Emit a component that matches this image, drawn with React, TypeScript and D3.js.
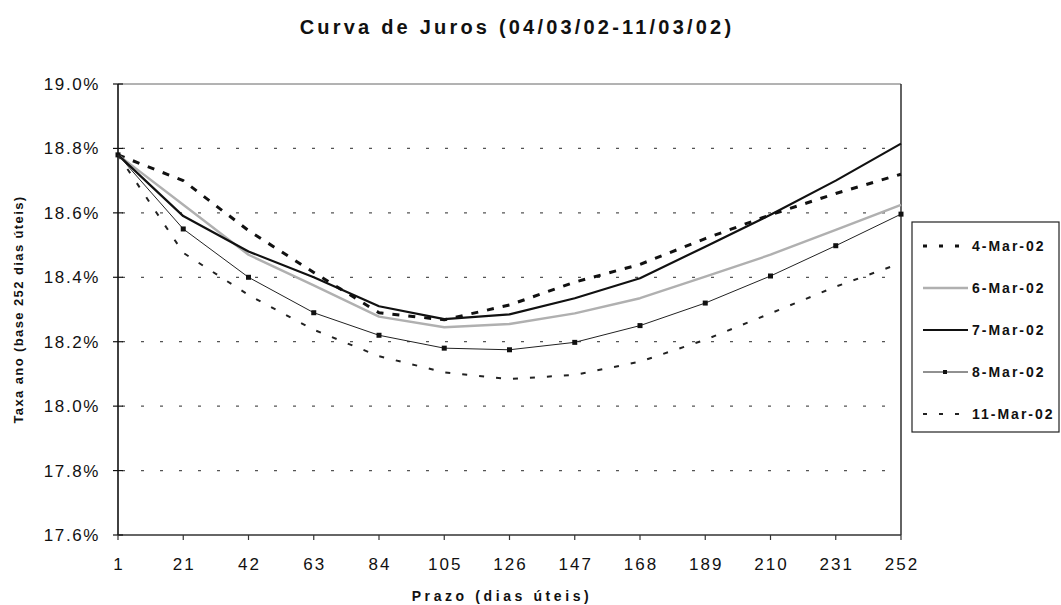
import React from "react";
import * as d3 from "d3";

// Prazo (dias úteis) — categories along the x axis
const prazos = ["1", "21", "42", "63", "84", "105", "126", "147", "168", "189", "210", "231", "252"];

// Taxa ano (% a.a., base 252 dias úteis) per curve date
const mar04 = [18.78, 18.70, 18.545, 18.415, 18.29, 18.268, 18.314, 18.385, 18.44, 18.52, 18.594, 18.66, 18.72];
const mar06 = [18.78, 18.625, 18.47, 18.375, 18.278, 18.245, 18.255, 18.288, 18.335, 18.402, 18.47, 18.547, 18.625];
const mar07 = [18.78, 18.59, 18.48, 18.40, 18.31, 18.27, 18.285, 18.335, 18.397, 18.495, 18.594, 18.70, 18.815];
const mar08 = [18.78, 18.55, 18.40, 18.29, 18.22, 18.18, 18.175, 18.198, 18.25, 18.32, 18.404, 18.498, 18.596];
const mar11 = [18.78, 18.476, 18.345, 18.237, 18.155, 18.105, 18.084, 18.097, 18.138, 18.206, 18.288, 18.371, 18.444];

const yTicks = [17.6, 17.8, 18.0, 18.2, 18.4, 18.6, 18.8, 19.0];
const gridValues = [17.8, 18.0, 18.2, 18.4, 18.6, 18.8];

type Series = {
  name: string;
  values: number[];
  stroke: string;
  width: number;
  dash?: string;
  markers?: boolean;
};

const series: Series[] = [
  { name: "4-Mar-02", values: mar04, stroke: "#111", width: 3, dash: "7,9" },
  { name: "6-Mar-02", values: mar06, stroke: "#b0b0b0", width: 2.4 },
  { name: "7-Mar-02", values: mar07, stroke: "#111", width: 2.2 },
  { name: "8-Mar-02", values: mar08, stroke: "#222", width: 1, markers: true },
  { name: "11-Mar-02", values: mar11, stroke: "#222", width: 2, dash: "5,12" },
];

const FONT = "'Liberation Sans', Arial, sans-serif";

export default function App() {
  const W = 1061;
  const H = 605;
  const left = 118;
  const right = 901;
  const top = 84;
  const bottom = 535;

  const x = d3.scalePoint<string>().domain(prazos).range([left, right]);
  const y = d3.scaleLinear().domain([17.6, 19.0]).range([bottom, top]);

  const line = d3
    .line<number>()
    .x((_, i) => x(prazos[i]) as number)
    .y((v) => y(v));

  const legendX = 912;
  const legendTop = 222;
  const legendRowY = (i: number) => 246 + i * 42;

  return (
    <svg
      width={W}
      height={H}
      style={{ position: "absolute", left: 0, top: 0, background: "#fff" }}
      fontFamily={FONT}
    >
      <rect width={W} height={H} fill="#fff" />

      {/* title */}
      <text
        x={517}
        y={34}
        textAnchor="middle"
        fontSize={20}
        fontWeight="bold"
        letterSpacing={3.2}
        fill="#111"
      >
        Curva de Juros (04/03/02-11/03/02)
      </text>

      {/* dotted gridlines */}
      {gridValues.map((v) => (
        <line
          key={v}
          x1={left + 4}
          x2={right}
          y1={y(v)}
          y2={y(v)}
          stroke="#555"
          strokeWidth={1.2}
          strokeDasharray="3,16"
        />
      ))}

      {/* plot frame */}
      <line x1={left} x2={right} y1={top} y2={top} stroke="#666" strokeWidth={1} />
      <line x1={right} x2={right} y1={top} y2={bottom} stroke="#222" strokeWidth={1.4} />
      <line x1={left} x2={left} y1={top} y2={bottom} stroke="#111" strokeWidth={1.6} />
      <line x1={left} x2={right} y1={bottom} y2={bottom} stroke="#333" strokeWidth={1.6} />

      {/* y axis ticks and labels */}
      {yTicks.map((v) => (
        <g key={v}>
          <line x1={left - 5} x2={left + 5} y1={y(v)} y2={y(v)} stroke="#111" strokeWidth={1.2} />
          <text
            x={100}
            y={y(v) + 6}
            textAnchor="end"
            fontSize={17}
            letterSpacing={1.6}
            fill="#111"
          >
            {v.toFixed(1)}%
          </text>
        </g>
      ))}

      {/* x axis ticks and labels */}
      {prazos.map((p) => (
        <g key={p}>
          <line
            x1={x(p) as number}
            x2={x(p) as number}
            y1={bottom}
            y2={bottom + 5}
            stroke="#333"
            strokeWidth={1.2}
          />
          <text
            x={(x(p) as number) + 1}
            y={570}
            textAnchor="middle"
            fontSize={17}
            letterSpacing={2}
            fill="#111"
          >
            {p}
          </text>
        </g>
      ))}

      {/* axis titles */}
      <text
        x={502}
        y={601}
        textAnchor="middle"
        fontSize={14}
        fontWeight="bold"
        letterSpacing={3.6}
        fill="#111"
      >
        Prazo (dias úteis)
      </text>
      <text
        transform={`translate(23, ${(top + bottom) / 2}) rotate(-90)`}
        textAnchor="middle"
        fontSize={13}
        fontWeight="bold"
        letterSpacing={1.4}
        fill="#111"
      >
        Taxa ano (base 252 dias úteis)
      </text>

      {/* curves */}
      {series.map((s) => (
        <g key={s.name}>
          <path
            d={line(s.values) ?? ""}
            fill="none"
            stroke={s.stroke}
            strokeWidth={s.width}
            strokeDasharray={s.dash}
            strokeLinejoin="round"
          />
          {s.markers &&
            s.values.map((v, i) => (
              <rect
                key={i}
                x={(x(prazos[i]) as number) - 2.5}
                y={y(v) - 2.5}
                width={5}
                height={5}
                fill="#111"
              />
            ))}
        </g>
      ))}

      {/* legend */}
      <rect
        x={legendX}
        y={legendTop}
        width={W - legendX - 2}
        height={210}
        fill="#fff"
        stroke="#222"
        strokeWidth={1.2}
      />
      {series.map((s, i) => {
        const cy = legendRowY(i);
        return (
          <g key={s.name}>
            <line
              x1={923}
              x2={968}
              y1={cy}
              y2={cy}
              stroke={s.stroke}
              strokeWidth={s.width}
              strokeDasharray={s.dash ? "4,12" : undefined}
            />
            {s.markers && <rect x={943} y={cy - 2} width={4} height={4} fill="#111" />}
            <text
              x={972}
              y={cy + 5}
              fontSize={14}
              fontWeight="bold"
              letterSpacing={2}
              fill="#111"
            >
              {s.name}
            </text>
          </g>
        );
      })}
    </svg>
  );
}
